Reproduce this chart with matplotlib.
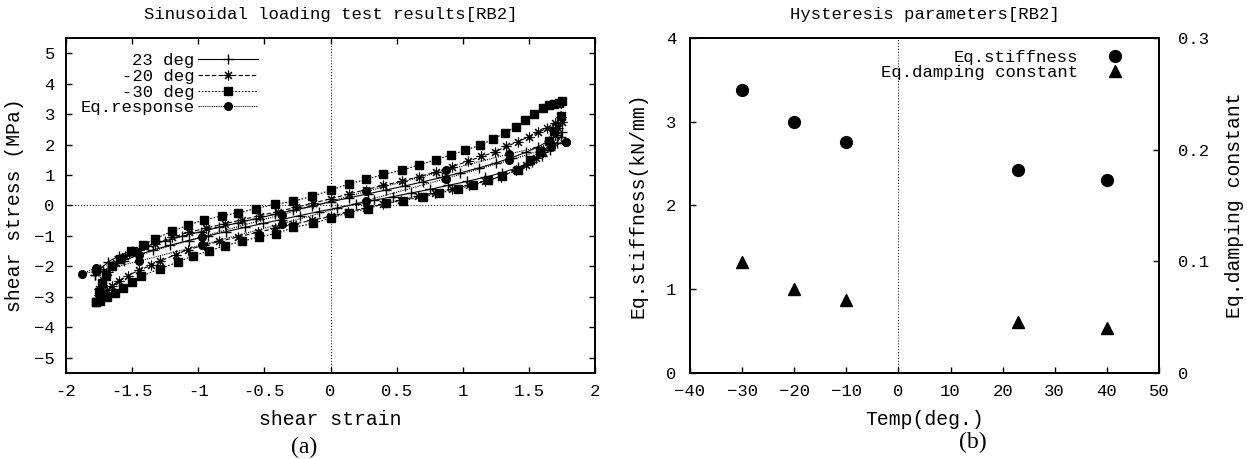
import matplotlib
matplotlib.use("Agg")
import matplotlib.pyplot as plt

# (a) hysteresis loops: strain / stress, loading branch then unloading branch
strain_23 = [-1.78, -1.74, -1.68, -1.60, -1.50, -1.38, -1.25, -1.12, -0.98, -0.84,
             -0.70, -0.56, -0.42, -0.28, -0.14, 0.00, 0.14, 0.28, 0.42, 0.56,
             0.70, 0.84, 0.98, 1.12, 1.25, 1.37, 1.48, 1.57, 1.65, 1.71, 1.75,
             1.74, 1.71, 1.66, 1.60, 1.52, 1.42, 1.30, 1.17, 1.03, 0.89,
             0.75, 0.61, 0.47, 0.33, 0.19, 0.05, -0.09, -0.23, -0.37, -0.51,
             -0.65, -0.79, -0.93, -1.07, -1.21, -1.34, -1.46, -1.56, -1.65, -1.72, -1.78]
stress_23 = [-2.28, -2.08, -1.85, -1.65, -1.48, -1.32, -1.16, -1.01, -0.86, -0.71,
             -0.57, -0.43, -0.29, -0.15, -0.02, 0.12, 0.25, 0.38, 0.51, 0.64,
             0.78, 0.92, 1.07, 1.23, 1.40, 1.57, 1.75, 1.93, 2.12, 2.30, 2.42,
             2.25, 2.05, 1.83, 1.62, 1.43, 1.25, 1.08, 0.93, 0.79, 0.66,
             0.53, 0.41, 0.29, 0.17, 0.05, -0.08, -0.20, -0.33, -0.46, -0.59,
             -0.72, -0.86, -1.00, -1.15, -1.30, -1.46, -1.63, -1.81, -2.00, -2.16, -2.28]

strain_m20 = [-1.76, -1.75, -1.72, -1.68, -1.62, -1.55, -1.45, -1.33, -1.20, -1.07,
              -0.94, -0.80, -0.67, -0.53, -0.40, -0.26, -0.13, 0.00, 0.14, 0.27,
              0.40, 0.54, 0.67, 0.80, 0.92, 1.04, 1.14, 1.24, 1.33, 1.42,
              1.50, 1.57, 1.64, 1.70, 1.74,
              1.75, 1.72, 1.70, 1.66, 1.61, 1.55, 1.48, 1.40, 1.29, 1.17,
              1.05, 0.92, 0.79, 0.66, 0.53, 0.40, 0.27, 0.13, 0.00, -0.14,
              -0.28, -0.42, -0.55, -0.70, -0.84, -0.96, -1.08, -1.17, -1.29, -1.36,
              -1.45, -1.53, -1.60, -1.65, -1.69, -1.73, -1.76]
stress_m20 = [-3.05, -2.75, -2.45, -2.20, -1.88, -1.65, -1.45, -1.25, -1.05, -0.88,
              -0.74, -0.60, -0.47, -0.33, -0.20, -0.06, 0.08, 0.22, 0.38, 0.52,
              0.66, 0.80, 0.95, 1.10, 1.28, 1.45, 1.61, 1.75, 1.94, 2.10,
              2.26, 2.40, 2.55, 2.70, 2.90,
              2.75, 2.55, 2.32, 2.05, 1.77, 1.55, 1.33, 1.15, 0.95, 0.80,
              0.66, 0.54, 0.42, 0.30, 0.18, 0.05, -0.08, -0.22, -0.36, -0.48,
              -0.62, -0.75, -0.88, -1.03, -1.18, -1.31, -1.45, -1.61, -1.83, -1.97,
              -2.13, -2.30, -2.49, -2.63, -2.76, -2.92, -3.05]

strain_m30 = [-1.77, -1.75, -1.73, -1.70, -1.65, -1.59, -1.51, -1.42, -1.33, -1.20,
              -1.08, -0.96, -0.82, -0.70, -0.56, -0.42, -0.28, -0.14, 0.00, 0.14,
              0.27, 0.40, 0.54, 0.67, 0.80, 0.91, 1.02, 1.13, 1.23, 1.32,
              1.40, 1.47, 1.54, 1.61, 1.65, 1.69, 1.73, 1.75,
              1.74, 1.69, 1.65, 1.58, 1.51, 1.42, 1.30, 1.19, 1.08, 0.96,
              0.82, 0.70, 0.55, 0.42, 0.28, 0.14, 0.00, -0.13, -0.28, -0.41,
              -0.54, -0.67, -0.80, -0.92, -1.04, -1.15, -1.29, -1.43, -1.50, -1.57,
              -1.63, -1.69, -1.74, -1.77]
stress_m30 = [-3.18, -2.85, -2.55, -2.30, -2.00, -1.75, -1.50, -1.30, -1.10, -0.85,
              -0.65, -0.48, -0.34, -0.24, -0.10, 0.04, 0.14, 0.30, 0.50, 0.71,
              0.86, 1.02, 1.16, 1.33, 1.51, 1.66, 1.82, 1.98, 2.18, 2.39,
              2.59, 2.80, 2.99, 3.19, 3.31, 3.33, 3.36, 3.42,
              2.95, 2.45, 2.12, 1.79, 1.51, 1.18, 0.98, 0.83, 0.67, 0.55,
              0.40, 0.29, 0.16, 0.07, -0.10, -0.24, -0.41, -0.59, -0.72, -0.92,
              -1.03, -1.18, -1.32, -1.50, -1.65, -1.85, -2.08, -2.32, -2.52, -2.70,
              -2.87, -3.02, -3.14, -3.18]

strain_eq = [1.78, 1.67, 1.35, 0.87, 0.27, -0.37, -0.97, -1.45, -1.77, -1.88,
             -1.77, -1.45, -0.97, -0.37, 0.27, 0.87, 1.35, 1.67, 1.78]
stress_eq = [2.10, 2.02, 1.69, 1.15, 0.46, -0.30, -1.02, -1.63, -2.05, -2.24,
             -2.16, -1.83, -1.29, -0.60, 0.16, 0.88, 1.48, 1.92, 2.10]

# (b) hysteresis parameters vs temperature
temps = [-30, -20, -10, 23, 40]
eq_stiffness = [3.38, 3.00, 2.76, 2.42, 2.30]
eq_damping = [0.099, 0.075, 0.065, 0.046, 0.040]

MONO = ["Liberation Mono", "DejaVu Sans Mono"]
SERIF = ["Liberation Serif", "DejaVu Serif"]
plt.rcParams["font.family"] = MONO
plt.rcParams["font.size"] = 12.4
plt.rcParams["axes.linewidth"] = 1.4
plt.rcParams["xtick.direction"] = "in"
plt.rcParams["ytick.direction"] = "in"
plt.rcParams["xtick.major.size"] = 4.5
plt.rcParams["ytick.major.size"] = 4.5
plt.rcParams["xtick.major.width"] = 1.0
plt.rcParams["ytick.major.width"] = 1.0

fig = plt.figure(figsize=(12.47, 4.59), dpi=100)
ax1 = fig.add_axes([0.0529, 0.1874, 0.4243, 0.7298])
ax2 = fig.add_axes([0.5533, 0.1874, 0.3761, 0.7298])

# ---- (a)
ax1.axhline(0, color="k", lw=0.7, ls=(0, (1, 2)), zorder=0)
ax1.axvline(0, color="k", lw=0.7, ls=(0, (1, 2)), zorder=0)
ax1.plot(strain_23, stress_23, color="k", lw=0.8, ls="-", marker="+", ms=7, mew=1.0,
         label="23 deg")
ax1.plot(strain_m20, stress_m20, color="k", lw=0.8, ls=(0, (4, 2)), marker=(8, 2, 0),
         ms=7, mew=0.8, label="-20 deg")
ax1.plot(strain_m30, stress_m30, color="k", lw=0.8, ls=(0, (1.5, 1.5)), marker="s",
         ms=5.5, label="-30 deg")
ax1.plot(strain_eq, stress_eq, color="k", lw=0.8, ls=(0, (1, 1)), marker="o",
         ms=5.5, label="Eq.response")

ax1.set_xlim(-2, 2)
ax1.set_ylim(-5.5, 5.5)
ax1.set_xticks([-2, -1.5, -1, -0.5, 0, 0.5, 1, 1.5, 2])
ax1.set_xticklabels(["-2", "-1.5", "-1", "-0.5", "0", "0.5", "1", "1.5", "2"])
ax1.set_yticks(range(-5, 6))
ax1.tick_params(top=True, right=True)
ax1.tick_params(axis="x", pad=8)
ax1.tick_params(axis="y", pad=8)
ax1.set_title("Sinusoidal loading test results[RB2]", fontsize=12.4, pad=14)
ax1.set_xlabel("shear strain", fontsize=14.2, labelpad=8)
ax1.set_ylabel("shear stress (MPa)", fontsize=14.2)
ax1.yaxis.set_label_coords(-0.080, 0.5)

leg1 = ax1.legend(loc="upper left", bbox_to_anchor=(0.0, 1.0), frameon=False,
                  markerfirst=False, handlelength=3.5, handletextpad=0.2,
                  labelspacing=0.05, borderpad=0.85, borderaxespad=0.0, fontsize=12.4)
for col in leg1._legend_handle_box.get_children():
    col.align = "right"

# ---- (b)
ax2b = ax2.twinx()
ax2.axvline(0, color="k", lw=0.7, ls=(0, (1, 2)), zorder=0)
h1, = ax2.plot(temps, eq_stiffness, ls="none", marker="o", ms=8.5, color="k",
               label="Eq.stiffness")
h2, = ax2b.plot(temps, eq_damping, ls="none", marker="^", ms=8, color="k",
                label="Eq.damping constant")
ax2.set_xlim(-40, 50)
ax2.set_ylim(0, 4)
ax2b.set_ylim(0, 0.3)
ax2.set_xticks(range(-40, 51, 10))
ax2.set_yticks([0, 1, 2, 3, 4])
ax2b.set_yticks([0, 0.1, 0.2, 0.3])
ax2b.set_yticklabels(["0", "0.1", "0.2", "0.3"])
ax2.tick_params(axis="x", pad=8)
ax2.tick_params(axis="y", pad=10)
ax2b.tick_params(axis="y", pad=14)
for sp in ax2b.spines.values():
    sp.set_linewidth(1.4)
ax2.set_title("Hysteresis parameters[RB2]", fontsize=12.4, pad=14)
ax2.set_xlabel("Temp(deg.)", fontsize=14.2, labelpad=8)
ax2.set_ylabel("Eq.stiffness(kN/mm)", fontsize=14.2)
ax2.yaxis.set_label_coords(-0.090, 0.5)
ax2b.set_ylabel("Eq.damping constant", fontsize=14.2)
ax2b.yaxis.set_label_coords(1.141, 0.5)

leg2 = ax2b.legend([h1, h2], ["Eq.stiffness", "Eq.damping constant"],
                   loc="upper right", bbox_to_anchor=(0.968, 1.0), frameon=False,
                   markerfirst=False, handlelength=2.0, handletextpad=1.1,
                   labelspacing=0.0, borderpad=0.7, borderaxespad=0.0, fontsize=12.4)
for col in leg2._legend_handle_box.get_children():
    col.align = "right"

fig.text(0.244, 0.026, "(a)", fontsize=17, family=SERIF, ha="center", va="center")
fig.text(0.780, 0.035, "(b)", fontsize=17, family=SERIF, ha="center", va="center")

fig.savefig("out.png", dpi=100)
